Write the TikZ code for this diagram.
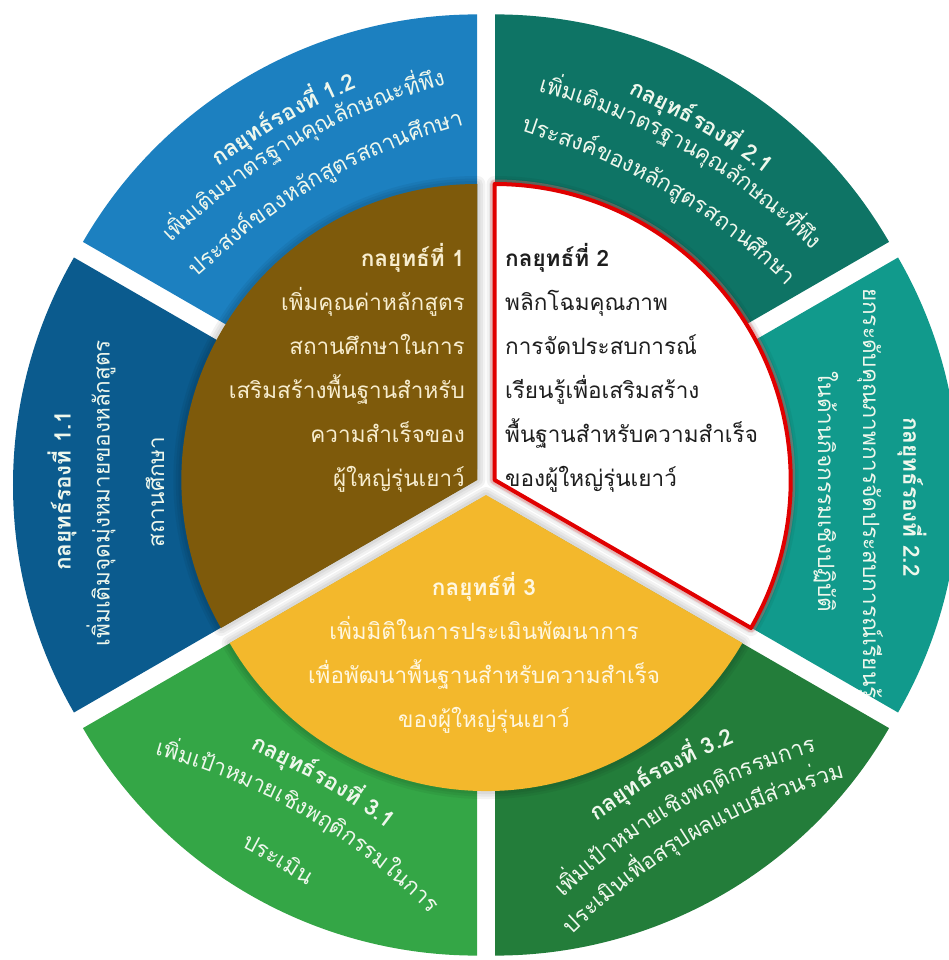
\documentclass[tikz,border=0pt]{standalone}
\usepackage{fontspec}
\newfontfamily\thai[Script=Thai]{Loma}
\usetikzlibrary{decorations.text,calc}
\definecolor{cB12}{HTML}{1C80C0}
\definecolor{cB11}{HTML}{0B5B8E}
\definecolor{cG31}{HTML}{34A646}
\definecolor{cG32}{HTML}{237D3A}
\definecolor{cT22}{HTML}{119A8C}
\definecolor{cT21}{HTML}{0E7465}
\definecolor{cBrown}{HTML}{7E5A0B}
\definecolor{cGold}{HTML}{F3B82C}
\definecolor{cRed}{HTML}{E00000}
\definecolor{oText}{HTML}{EEF7EC}
\definecolor{bText}{HTML}{F7EDCF}
\definecolor{gText}{HTML}{FFF7E0}
\definecolor{wText}{HTML}{1E1E1E}
\newcommand\fsz{\fontsize{22.5}{44}\selectfont}
\newcommand\curvtext[6]{%
  \path[decorate, decoration={text along path, text align=center, text color=oText, text={|#5|#6}}]
   ($(#1:#2pt)+(#4:#3pt)+(#4-90:600pt)+(#4+120:600pt)$) arc[start angle=#4+120, end angle=#4+60, radius=600pt];%
}
\newcommand\innershape[2]{(0,0) -- (#1:296pt) arc[start angle=#1, end angle=#2, radius=296pt] -- cycle}
\tikzset{
  sidetext/.style={inner sep=0pt, text=oText, font=\thai\fsz},
  sidetitle/.style={sidetext, font=\thai\bfseries\fsz},
}
\begin{document}
\begin{tikzpicture}[x=1pt,y=1pt]
\useasboundingbox (-486,-475) rectangle (463,485);
% outer ring pieces
\foreach \a/\b/\c in {90/150/cB12, 150/210/cB11, 210/270/cG31, 270/330/cG32, -30/30/cT22, 30/90/cT21}{
  \fill[\c, shift={({(\a+\b)/2}:18pt)}] (0,0) -- (\a:455pt) arc[start angle=\a, end angle=\b, radius=455pt] -- cycle;
}
% soft shadows of the inner pieces
\foreach \a/\b in {90/210, 210/330, -30/90}{
  \foreach \w in {16,11,6}{
    \draw[black, opacity=0.05, line width=\w pt, line join=round, shift={({(\a+\b)/2}:10pt)}] (0,0) -- (\a:296pt) arc[start angle=\a, end angle=\b, radius=296pt] -- cycle;
  }
}
% inner pieces
\fill[cBrown, shift={(150:10pt)}] (0,0) -- (90:296pt) arc[start angle=90, end angle=210, radius=296pt] -- cycle;
\fill[cGold, shift={(270:10pt)}] (0,0) -- (210:296pt) arc[start angle=210, end angle=330, radius=296pt] -- cycle;
\draw[cRed!60, opacity=0.35, line width=9pt, line join=round, shift={(30:10pt)}] (0,0) -- (-30:296pt) arc[start angle=-30, end angle=90, radius=296pt] -- cycle;
\filldraw[fill=white, draw=cRed, line width=4pt, line join=round, shift={(30:10pt)}] (0,0) -- (-30:296pt) arc[start angle=-30, end angle=90, radius=296pt] -- cycle;

% inner texts
\node[inner sep=0pt, anchor=east, align=right, text=bText, font=\thai\fsz] (s1) at (-21,117)
 {{\bfseries กลยุทธ์ที่ 1}\\เพิ่มคุณค่าหลักสูตร\\สถานศึกษาในการ\\เสริมสร้างพื้นฐานสำหรับ\\ความสำเร็จของ\\ผู้ใหญ่รุ่นเยาว์};
\node[inner sep=0pt, anchor=west, align=left, text=wText, font=\thai\fsz] (s2) at (19,117)
 {{\bfseries กลยุทธ์ที่ 2}\\พลิกโฉมคุณภาพ\\การจัดประสบการณ์\\เรียนรู้เพื่อเสริมสร้าง\\พื้นฐานสำหรับความสำเร็จ\\ของผู้ใหญ่รุ่นเยาว์};
\node[inner sep=0pt, anchor=center, align=center, text=gText, font=\thai\fsz] (s3) at (-2,-168)
 {{\bfseries กลยุทธ์ที่ 3}\\เพิ่มมิติในการประเมินพัฒนาการ\\เพื่อพัฒนาพื้นฐานสำหรับความสำเร็จ\\ของผู้ใหญ่รุ่นเยาว์};

% 1.2
\curvtext{120}{414}{7}{30}{\thai\bfseries\fsz}{{กลยุทธ์}{รอง}{ที่ 1.2}}
\curvtext{120}{388}{7}{30}{\thai\fsz}{{เพิ่ม}{เติม}{มาตร}{ฐาน}{คุณ}{ลักษณะ}{ที่}{พึง}}
\curvtext{120}{343}{7}{30}{\thai\fsz}{{ประสงค์}{ของ}{หลัก}{สูตร}{สถาน}{ศึกษา}}
% 2.1
\curvtext{60}{414}{7}{-30}{\thai\bfseries\fsz}{{กลยุทธ์}{รอง}{ที่ 2.1}}
\curvtext{60}{388}{7}{-30}{\thai\fsz}{{เพิ่ม}{เติม}{มาตร}{ฐาน}{คุณ}{ลักษณะ}{ที่}{พึง}}
\curvtext{60}{343}{7}{-30}{\thai\fsz}{{ประสงค์}{ของ}{หลัก}{สูตร}{สถาน}{ศึกษา}}
% 3.1
\curvtext{240}{342}{7}{-30}{\thai\bfseries\fsz}{{กลยุทธ์}{รอง}{ที่ 3.1}}
\curvtext{240}{378}{7}{-30}{\thai\fsz}{{เพิ่ม}{เป้า}{หมาย}{เชิง}{พฤติ}{กรรม}{ใน}{การ}}
\curvtext{240}{435}{7}{-30}{\thai\fsz}{{ประ}{เมิน}}
% 3.2
\curvtext{300}{342}{7}{30}{\thai\bfseries\fsz}{{กลยุทธ์}{รอง}{ที่ 3.2}}
\curvtext{300}{378}{7}{30}{\thai\fsz}{{เพิ่ม}{เป้า}{หมาย}{เชิง}{พฤติ}{กรรม}{การ}}
\curvtext{300}{412}{7}{30}{\thai\fsz}{{ประ}{เมิน}{เพื่อ}{สรุป}{ผล}{แบบ}{มี}{ส่วน}{ร่วม}}

% 1.1
\node[sidetitle, rotate=90] (t11a) at (-424,-6) {กลยุทธ์รองที่ 1.1};
\node[sidetext, rotate=90] (t11b) at (-385,-8) {เพิ่มเติมจุดมุ่งหมายของหลักสูตร};
\node[sidetext, rotate=90] (t11c) at (-331,-7) {สถานศึกษา};
% 2.2
\node[sidetitle, rotate=-90] (t22a) at (426,-12) {กลยุทธ์รองที่ 2.2};
\begin{scope}
\clip[shift={(0:18pt)}] (0,0) -- (-30:455pt) arc[start angle=-30, end angle=30, radius=455pt] -- cycle;
\node[sidetext, rotate=-90, anchor=west] (t22b) at (384,197) {ยกระดับคุณภาพการจัดประสบการณ์เรียนรู้};
\end{scope}
\node[sidetext, rotate=-90] (t22c) at (340,-7) {ในด้านกิจกรรมเชิงปฏิบัติ};
\end{tikzpicture}
\end{document}
